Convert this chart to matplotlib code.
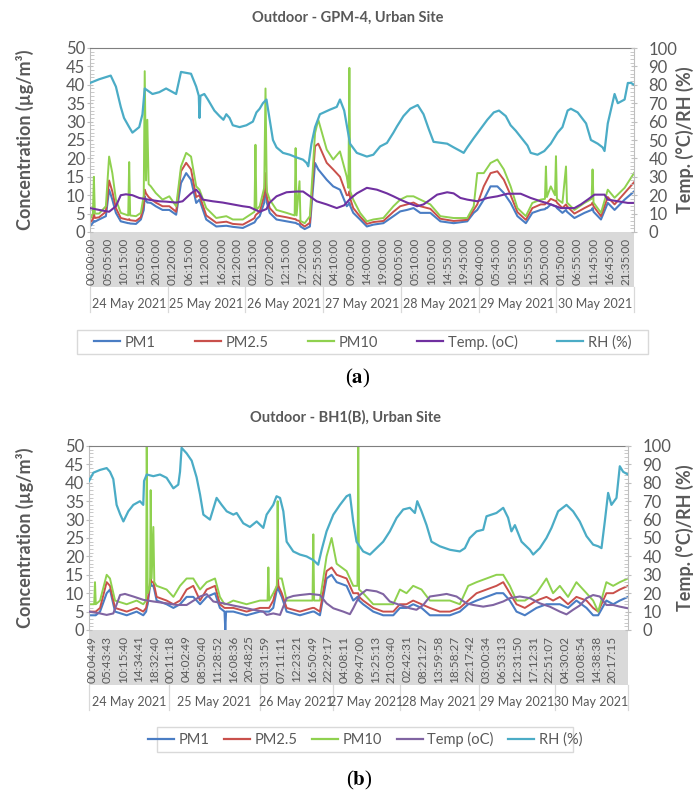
import matplotlib
matplotlib.use("Agg")
import matplotlib.pyplot as plt
import matplotlib.transforms as mtransforms
from matplotlib.lines import Line2D
from matplotlib.patches import Rectangle
from matplotlib.ticker import MultipleLocator

plt.rcParams['font.family'] = ['Lato', 'DejaVu Sans']
plt.rcParams['mathtext.fontset'] = 'stix'

GREY = '#595959'
C_PM1 = '#4A7DC4'
C_PM25 = '#C9504B'
C_PM10 = '#8FD14F'
C_RH = '#4BACC6'

# ---------------- (a) GPM-4, hours since 24 May 00:00 ----------------
a_pm_h = [0.0, 0.9, 1.2, 1.5, 2.8, 4.9, 5.9, 6.9, 8.0, 9.5,
          11.8, 12.1, 12.4, 14.2, 15.7, 16.6, 16.9, 17.3, 17.7, 18.1,
          18.8, 20.3, 22.4, 24.5, 26.6, 28.1, 29.7, 31.2, 32.8, 33.8,
          35.9, 39.0, 42.1, 44.1, 47.2, 50.3, 50.8, 51.1, 51.4, 52.4,
          53.8, 54.2, 54.6, 55.5, 57.6, 60.7, 63.2, 63.5, 63.8, 64.7,
          65.0, 66.3, 67.9, 69.5, 70.5, 73.1, 75.1, 77.2, 79.3, 79.8,
          80.1, 80.4, 81.3, 83.4, 85.5, 87.5, 90.6, 93.7, 95.8, 97.9,
          99.9, 102.0, 105.1, 108.2, 112.3, 116.5, 118.5, 119.6, 121.6, 123.7,
          125.8, 127.8, 129.9, 132.0, 134.6, 136.6, 139.2, 140.5, 140.8, 141.1,
          142.3, 143.6, 143.9, 144.2, 145.9, 147.0, 147.3, 149.6, 152.7, 154.9,
          155.2, 155.5, 157.8, 159.9, 162.0, 165.1, 168.0]
a_pm1 = [1.5, 2.5, 3, 2.8, 3.4, 4.3, 11.5, 8.8, 5.2, 2.9,
         2.4, 2.4, 2.3, 2.2, 3.4, 6, 9.7, 8.5, 8, 8,
         7.9, 7, 6, 6, 4.7, 13.3, 16, 14.2, 7.9, 8.8,
         3.4, 1.5, 1.7, 1.4, 1.1, 2.4, 2.6, 3, 3.5, 4.3,
         8, 15, 8, 5.2, 3.4, 2.9, 2.5, 2.5, 2.3, 2,
         1.5, 0.8, 1.5, 18.75, 17, 14.2, 12.4, 11.5, 7, 7.5,
         8, 7, 5.2, 3.4, 1.5, 2, 2.4, 4.3, 5.6, 6,
         6.5, 5.2, 5.2, 2.9, 2.4, 2.9, 5.2, 6, 8.8, 12.4,
         12.4, 10.6, 7.9, 4.3, 2.4, 5.2, 6, 6.2, 6.5, 6.5,
         7.5, 7, 7, 6.5, 5.2, 6, 5.5, 3.8, 5.2, 6,
         6.5, 5.5, 3.4, 7.9, 6, 8.8, 11]
a_pm25 = [2.5, 3.5, 5, 3.8, 4, 5.5, 14, 11, 6.5, 3.8,
          3.3, 3.5, 3.2, 3, 4, 7.5, 11.5, 10.5, 10, 9.5,
          9, 8, 7, 7, 5.5, 16.5, 18.8, 17, 9.5, 10,
          4.5, 2.5, 2.8, 2.2, 2, 3.5, 3.8, 4.5, 4.8, 5.5,
          10, 16, 9.5, 6.5, 4.5, 4, 3.5, 3.5, 3.2, 3,
          2.3, 1.5, 2.5, 23.3, 24, 18.8, 17, 15, 10, 10,
          11, 9, 6.5, 4.2, 2.2, 2.7, 3, 5.5, 7, 7.5,
          8, 7, 6.3, 3.6, 3, 3.3, 6, 7.5, 12.4, 16,
          16.5, 14.2, 10, 5.4, 3.3, 6.5, 7.5, 7.5, 8, 7.8,
          9, 8.5, 8.5, 8, 6.5, 7.5, 7, 5, 6.5, 7.5,
          8, 7, 4.3, 9.5, 7.5, 10.6, 13.5]
a_pm10 = [3.4, 5, 15, 5, 5, 7, 20.5, 16, 8.8, 5.2,
          4.5, 19, 4.5, 4.3, 5.2, 10, 43.7, 14, 30.5, 13,
          12.4, 10.6, 8.8, 9.7, 7, 17.8, 21.5, 20.5, 12.4, 11.5,
          6.5, 3.8, 4.3, 3.4, 3.4, 5.2, 5.5, 23.7, 6, 7,
          12, 39, 11, 8.8, 6, 5.2, 4.5, 22.8, 4.5, 13.8,
          3, 2.4, 4.3, 26.9, 30.5, 22.4, 19.7, 21.9, 15, 12,
          44.6, 11, 8.8, 5.2, 2.9, 3.4, 3.8, 7, 8.8, 9.7,
          9.7, 8.8, 7.5, 4.3, 3.8, 3.8, 7, 16, 16, 18.75,
          19.7, 17, 12.4, 6.5, 4.3, 7.9, 8.8, 9, 17.8, 9.5,
          12.4, 10, 20.6, 9, 7.9, 17.8, 8, 6, 7.9, 9,
          17, 8, 5.2, 11.5, 9.3, 12, 16]

a_temp_h = [0, 2.8, 5.9, 8.0, 9.5, 11.1, 13.1, 15.2, 18.3, 21.4,
            23.5, 26.6, 28.6, 31.2, 32.8, 33.8, 34.8, 37.9, 41.0, 44.1,
            47.2, 49.3, 52.4, 54.5, 55.5, 57.6, 60.7, 63.8, 65.8, 67.9,
            70.0, 73.1, 76.2, 78.5, 80.3, 82.4, 85.5, 88.6, 91.7, 93.7,
            95.8, 97.9, 101.0, 103.0, 105.1, 107.2, 110.3, 112.3, 114.4, 116.5,
            119.6, 122.7, 125.8, 128.9, 133.0, 136.1, 139.2, 142.3, 145.4, 149.6,
            151.6, 153.7, 155.8, 158.9, 159.9, 163.0, 166.1, 168.0]
a_temp = [13, 12, 11, 14, 20, 20.5, 20, 18.5, 17.5, 16.7,
          16.5, 16, 16.7, 21, 23, 21, 17.6, 16.7, 16, 15,
          14, 13.5, 11, 12.5, 16, 19.4, 21.6, 22, 22, 19.4,
          16.7, 15, 13, 14.5, 18, 21, 24, 23, 21, 19.4,
          17.6, 16, 14, 15, 17.6, 20.3, 21.6, 21, 18.5, 17.6,
          16.7, 18.5, 19.4, 20.8, 20.8, 18.5, 16.7, 15, 13, 13,
          15, 17.6, 20.3, 20.3, 17.6, 16.7, 15.8, 15.8]

a_rh_h = [0, 2.8, 6.4, 8.0, 9.5, 10.5, 12.1, 13.1, 15.2, 16.2,
          16.9, 19.3, 21.4, 23.5, 26.6, 28.1, 31.2, 32.8, 33.6, 33.8,
          34.1, 35.3, 36.4, 38.4, 40.0, 41.2, 42.1, 43.1, 44.1, 46.2,
          48.3, 50.3, 51.4, 52.4, 53.4, 54.5, 56.5, 57.6, 59.6, 61.7,
          63.8, 65.8, 66.9, 67.4, 68.4, 69.5, 71.0, 74.1, 76.2, 77.2,
          78.5, 80.3, 82.4, 85.5, 87.5, 89.6, 91.7, 93.7, 94.8, 96.8,
          98.9, 101.2, 103.0, 104.6, 106.1, 110.3, 112.3, 114.4, 115.4, 116.5,
          118.5, 120.6, 122.7, 124.7, 126.3, 128.4, 129.9, 131.5, 135.1, 136.1,
          138.2, 140.3, 142.3, 144.4, 145.9, 147.5, 148.5, 150.6, 153.2, 154.7,
          156.8, 158.3, 158.9, 159.9, 162.0, 163.0, 165.1, 166.1, 167.1, 168.0]
a_rh = [81, 83, 85, 79, 68, 62, 57, 54, 57, 64,
        78, 75, 76, 78, 75, 87, 86, 79, 74, 62,
        74, 75, 72, 66, 63, 61, 64, 62, 58, 57,
        58, 60, 65, 67, 70, 72, 50, 46, 43, 42,
        40.5, 39.3, 37.5, 35.7, 48, 57, 64, 66.5, 68, 72,
        66, 48, 43, 41, 42, 46.5, 48.4, 54, 57.4, 63,
        67, 69, 64, 56, 49, 48, 46, 44, 43, 46,
        51, 56, 61, 65, 66, 63, 58, 55, 47, 43,
        42, 44, 48, 54, 57, 66, 67, 65, 59, 50,
        48, 46, 44, 59, 75, 70, 72, 81, 81, 80]

a_time_labels = ['00:00:00', '05:05:00', '10:15:00', '15:05:00', '20:10:00',
                 '01:20:00', '06:15:00', '11:20:00', '16:20:00', '21:20:00',
                 '02:15:00', '07:20:00', '12:15:00', '17:20:00', '22:55:00',
                 '04:10:00', '09:00:00', '14:00:00', '19:00:00',
                 '00:05:00', '05:10:00', '10:05:00', '14:55:00', '19:45:00',
                 '00:40:00', '05:45:00', '10:55:00', '15:55:00', '20:50:00',
                 '01:50:00', '06:55:00', '11:45:00', '16:45:00', '21:35:00']
a_day_edges = [0, 24, 48, 72, 96, 120, 144, 168]

# ---------------- (b) BH1(B), category position ----------------
b_pm_x = [-0.17, 0.16, 0.21, 0.26, 0.53, 0.95, 1.16, 1.48, 2.22, 2.85,
          3.27, 3.45, 3.49, 3.55, 3.70, 3.74, 3.80, 3.91, 3.97, 4.12,
          4.75, 5.18, 5.60, 6.02, 6.44, 6.87, 7.29, 7.82, 8.13, 8.42,
          8.47, 8.52, 8.98, 9.82, 10.67, 11.15, 11.20, 11.25, 11.51, 11.74,
          11.79, 11.84, 12.05, 12.36, 13.20, 14.00, 14.05, 14.10, 14.47, 14.89,
          15.21, 15.53, 16.16, 16.58, 16.85, 16.90, 16.95, 17.21, 17.85, 18.48,
          19.12, 19.54, 19.96, 20.38, 20.91, 21.44, 22.07, 22.71, 23.34, 23.87,
          24.40, 25.03, 25.66, 26.09, 26.51, 26.93, 27.46, 28.20, 28.83, 29.25,
          29.68, 30.20, 30.73, 31.37, 31.79, 32.11, 32.63, 33.06, 33.48, 34.0]
b_pm1 = [4, 4, 4, 4, 5, 10, 11, 5, 4, 5,
         4, 5, 6, 7, 12, 13, 12, 12, 11, 8,
         7, 6, 7, 9, 9, 7, 9, 10, 6, 5,
         0, 5, 5, 4, 5, 5, 5, 5, 6, 11,
         13, 11, 9, 5, 4, 5, 5, 5, 4, 14,
         15, 13, 12, 8, 9, 9, 8, 7, 5, 4,
         4, 6, 6, 7, 6, 4, 4, 4, 5, 7,
         8, 9, 10, 10, 8, 5, 4, 6, 7, 7,
         7, 6, 8, 6, 4, 4, 8, 7, 8, 9]
b_pm25 = [5, 5, 5, 5, 6, 13, 12, 6, 5, 6,
          5, 6, 7, 8, 13, 14, 13, 13, 12, 9,
          8, 7, 8, 11, 12, 8, 11, 12, 7, 6,
          6, 6, 6, 5, 6, 6, 6, 6, 8, 12,
          15, 12, 10, 6, 5, 6, 6, 6, 5, 16,
          17, 15, 14, 10, 10, 10, 9, 8, 6, 5,
          5, 7, 7, 8, 7, 6, 5, 5, 6, 8,
          10, 11, 12, 13, 10, 7, 6, 8, 9, 8,
          9, 7, 9, 8, 6, 5, 10, 10, 11, 12]
b_pm10 = [7, 7, 13, 7, 8, 15, 14, 8, 7, 8,
          7, 8, 52, 10, 12, 38, 14, 28, 13, 12,
          11, 9, 12, 14, 14, 11, 13, 14, 9, 7,
          7, 7, 8, 7, 8, 8, 17, 8, 10, 12,
          35, 14, 14, 8, 8, 8, 26, 8, 8, 20,
          25, 18, 16, 12, 12, 52, 11, 10, 7, 7,
          7, 11, 10, 12, 11, 8, 8, 8, 7, 12,
          13, 14, 15, 15, 12, 8, 8, 10, 14, 10,
          12, 9, 13, 10, 8, 5, 13, 12, 13, 14]

b_temp_x = [-0.17, 0.53, 0.95, 1.37, 1.80, 2.11, 2.64, 3.27, 3.91, 4.75,
            5.39, 6.02, 6.87, 7.29, 7.71, 8.34, 8.98, 9.61, 10.25, 10.88,
            11.09, 11.51, 11.94, 12.36, 12.78, 13.20, 13.84, 14.47, 14.89, 15.32,
            15.95, 16.37, 16.58, 17.00, 17.42, 18.06, 18.48, 18.90, 19.54, 20.17,
            20.59, 21.02, 21.44, 22.07, 22.50, 23.13, 23.76, 24.19, 24.82, 25.45,
            26.09, 26.51, 27.14, 27.78, 28.41, 29.04, 29.68, 30.10, 30.52, 30.94,
            31.37, 31.79, 32.21, 32.63, 33.06, 33.48, 34.0]
b_temp = [10, 9, 8.2, 9, 19, 19.6, 18.2, 16.4, 15.5, 14.5,
          13.6, 13.6, 18.2, 19.5, 15.5, 14.5, 13.3, 12.2, 11, 10,
          8.2, 9, 8.2, 17.3, 18.5, 19, 19.6, 19, 14.5, 11.8,
          10, 8.6, 11.8, 19, 21.8, 21, 19.5, 15.5, 13.6, 11.8,
          11, 13.6, 18.2, 19, 19.6, 18.2, 14.5, 13.6, 12.7, 13.6,
          15.5, 17.3, 18.2, 17.3, 14.5, 12.7, 10, 8.5, 11, 13.3,
          17.3, 19, 18.2, 13.6, 13.6, 12.7, 11.8]

b_rh_x = [-0.17, 0.11, 0.53, 0.95, 1.16, 1.37, 1.58, 1.80, 2.01, 2.32,
          2.64, 3.06, 3.27, 3.32, 3.49, 3.91, 4.33, 4.75, 5.18, 5.49,
          5.60, 5.70, 6.02, 6.34, 6.65, 6.87, 7.08, 7.50, 7.92, 8.24,
          8.56, 8.98, 9.19, 9.61, 10.03, 10.46, 10.88, 11.09, 11.51, 11.72,
          11.94, 12.15, 12.36, 12.78, 13.20, 13.62, 14.05, 14.36, 14.58, 14.89,
          15.32, 15.74, 16.16, 16.37, 16.58, 16.79, 17.21, 17.64, 18.06, 18.48,
          18.90, 19.33, 19.75, 20.17, 20.49, 20.64, 20.91, 21.23, 21.54, 22.07,
          22.71, 23.34, 23.66, 23.97, 24.40, 24.82, 25.03, 25.66, 26.09, 26.40,
          26.61, 26.83, 27.25, 27.78, 27.99, 28.41, 28.83, 29.15, 29.57, 30.10,
          30.52, 30.94, 31.37, 31.79, 32.11, 32.32, 32.53, 32.74, 32.95, 33.27,
          33.48, 33.69, 34.0]
b_rh = [81, 85.5, 87, 88, 86, 82, 68, 63, 59, 64.5,
        68, 70, 68, 81, 84.5, 83.6, 84.5, 82.7, 77, 79,
        86, 99, 96, 92, 83, 73.6, 62.7, 60, 71.8, 68,
        64.5, 62.7, 63.6, 58, 56, 59, 55.5, 62.7, 68, 72.7,
        71.8, 64.5, 48, 42.7, 41, 40, 38, 35.5, 43.6, 53.6,
        62.7, 68, 72.7, 73.6, 59, 48, 42.7, 41, 44.5, 48,
        53.6, 60.9, 65.5, 66.4, 63.6, 70, 64.5, 57, 48, 45.5,
        43.6, 42.7, 44.5, 50, 53.6, 54.5, 61.8, 63.6, 66.4, 61,
        53.6, 57, 48, 43.6, 41, 44.5, 50, 55.5, 64.5, 68,
        64.5, 59, 51, 46.4, 45.5, 44.5, 59, 74.5, 68, 71.8,
        89, 86, 84.5]

b_time_labels = ['00:04:49', '05:43:43', '10:15:40', '14:34:41', '18:32:40',
                 '00:11:18', '04:02:49', '08:50:40', '11:28:52', '16:08:36', '20:48:25',
                 '01:31:59', '07:11:11', '12:23:21', '16:50:49', '22:29:17',
                 '04:08:11', '09:47:00', '15:25:13', '21:03:40',
                 '02:42:31', '08:21:27', '13:59:58', '18:58:27', '22:17:42',
                 '03:00:34', '06:53:13', '12:31:50', '17:12:31', '22:51:07',
                 '04:30:02', '10:08:54', '14:38:38', '20:17:15']
b_day_edges = [-0.17, 4.90, 10.67, 15.29, 19.54, 24.55, 29.36, 34.0]

days = ['24 May 2021', '25 May 2021', '26 May 2021', '27 May 2021',
        '28 May 2021', '29 May 2021', '30 May 2021']

W, H = 695, 794
fig = plt.figure(figsize=(W / 100, H / 100), dpi=100)


def px_rect(x0, y0, x1, y1):
    return [x0 / W, 1 - y1 / H, (x1 - x0) / W, (y1 - y0) / H]


def draw_panel(rect, xlim, pm_x, pm1, pm25, pm10, t_x, temp, rh_x, rh,
               ticks, tick_labels, edges, temp_color):
    ax = fig.add_axes(rect)
    ax.plot(pm_x, pm1, color=C_PM1, lw=1.5)
    ax.plot(pm_x, pm25, color=C_PM25, lw=1.4)
    ax.plot(pm_x, pm10, color=C_PM10, lw=1.4)
    ax.set_xlim(xlim)
    ax.set_ylim(0, 50)
    ax.yaxis.set_major_locator(MultipleLocator(5))
    ax.yaxis.set_minor_locator(MultipleLocator(1))

    ax2 = ax.twinx()
    ax2.plot(t_x, temp, color=temp_color, lw=1.5)
    ax2.plot(rh_x, rh, color=C_RH, lw=1.6)
    ax2.set_ylim(0, 100)
    ax2.yaxis.set_major_locator(MultipleLocator(10))
    ax2.yaxis.set_minor_locator(MultipleLocator(2))

    for a in (ax, ax2):
        for s in a.spines.values():
            s.set_visible(False)
    ax.spines['top'].set_visible(True)
    ax.spines['top'].set_color('#7F7F7F')
    ax.spines['left'].set_visible(True)
    ax.spines['left'].set_color('#BFBFBF')
    ax2.spines['right'].set_visible(True)
    ax2.spines['right'].set_color('#BFBFBF')

    ax.tick_params(axis='y', which='major', direction='inout', length=5,
                   color='#BFBFBF', labelsize=12, labelcolor=GREY, pad=1)
    ax.tick_params(axis='y', which='minor', direction='in', length=3, color='#BFBFBF')
    ax2.tick_params(axis='y', which='major', direction='inout', length=5,
                    color='#BFBFBF', labelsize=12, labelcolor=GREY, pad=8)
    ax2.tick_params(axis='y', which='minor', direction='in', length=3, color='#BFBFBF')

    ax.set_xticks(ticks)
    ax.set_xticklabels(tick_labels, rotation=90, fontsize=8.5, color=GREY)
    ax.tick_params(axis='x', length=0, pad=4)

    band = 55 / 184
    ax.add_patch(Rectangle((0, -band), 1, band, transform=ax.transAxes,
                           clip_on=False, facecolor='#D9D9D9', edgecolor='none', zorder=0))
    trans = mtransforms.blended_transform_factory(ax.transData, ax.transAxes)
    for e in edges:
        ax.plot([e, e], [-band, -80 / 184], transform=trans, clip_on=False,
                color='#D9D9D9', lw=0.9)
    for i, d in enumerate(days):
        ax.text((edges[i] + edges[i + 1]) / 2, -72 / 184, d, transform=trans,
                ha='center', va='center', fontsize=9, color=GREY)
    return ax


a_ticks = [0.5 + 5 * k for k in range(len(a_time_labels))]
draw_panel(px_rect(90, 48, 634, 232), (0, 168), a_pm_h, a_pm1, a_pm25, a_pm10,
           a_temp_h, a_temp, a_rh_h, a_rh, a_ticks, a_time_labels, a_day_edges, '#7030A0')

b_ticks = list(range(len(b_time_labels)))
draw_panel(px_rect(89, 446, 628, 630), (-0.17, 34.0), b_pm_x, b_pm1, b_pm25, b_pm10,
           b_temp_x, b_temp, b_rh_x, b_rh, b_ticks, b_time_labels, b_day_edges, '#8064A2')

# titles and axis labels
fig.text(348 / W, 1 - 18 / H, 'Outdoor - GPM-4, Urban Site', ha='center', va='center',
         fontsize=10.5, fontweight='bold', color=GREY)
fig.text(345 / W, 1 - 417 / H, 'Outdoor - BH1(B), Urban Site', ha='center', va='center',
         fontsize=10.5, fontweight='bold', color=GREY)
for yc in (140, 538):
    fig.text(25 / W, 1 - yc / H, 'Concentration (µg/m³)', rotation=90, ha='center',
             va='center', fontsize=13, fontweight='bold', color=GREY)
    fig.text(685 / W, 1 - yc / H, 'Temp. (°C)/RH (%)', rotation=90, ha='center',
             va='center', fontsize=13, fontweight='bold', color=GREY)


# legends
def legend_box(x0, y0, x1, y1, labels, temp_color, spacing):
    fig.add_artist(Rectangle((x0 / W, 1 - y1 / H), (x1 - x0) / W, (y1 - y0) / H,
                             transform=fig.transFigure, facecolor='none',
                             edgecolor='#D9D9D9', lw=1))
    colors = [C_PM1, C_PM25, C_PM10, temp_color, C_RH]
    handles = [Line2D([], [], color=c, lw=1.6) for c in colors]
    leg = fig.legend(handles, labels, loc='center',
                     bbox_to_anchor=((x0 + x1) / 2 / W, 1 - (y0 + y1) / 2 / H),
                     ncol=5, frameon=False, fontsize=10.5, handlelength=1.8,
                     handletextpad=0.3, columnspacing=spacing)
    for t in leg.get_texts():
        t.set_color(GREY)


legend_box(77, 330, 648, 354, ['PM1', 'PM2.5', 'PM10', 'Temp. (oC)', 'RH (%)'], '#7030A0', 2.7)
legend_box(157, 727, 573, 752, ['PM1', 'PM2.5', 'PM10', 'Temp (oC)', 'RH (%)'], '#8064A2', 1.0)

fig.text(358 / W, 1 - 378 / H, r'($\mathbf{a}$)', ha='center', va='center',
         fontsize=15, family='Liberation Serif')
fig.text(359 / W, 1 - 780 / H, r'($\mathbf{b}$)', ha='center', va='center',
         fontsize=15, family='Liberation Serif')

fig.savefig('out.png', dpi=100)
